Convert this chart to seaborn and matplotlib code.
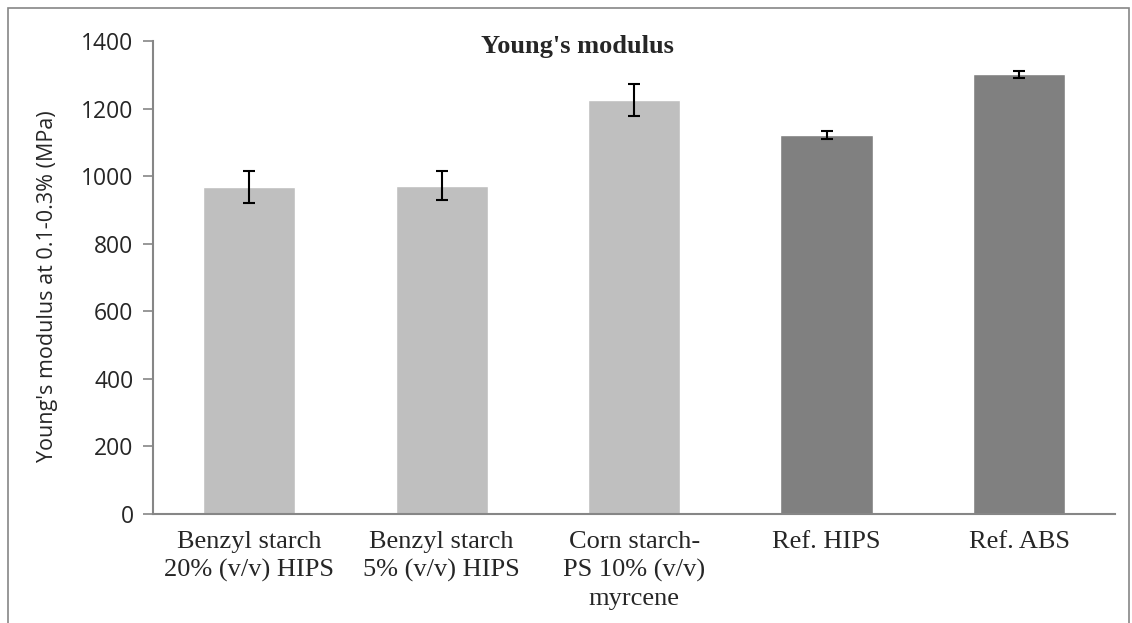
import numpy as np
import pandas as pd
import matplotlib
matplotlib.use("Agg")
import matplotlib.pyplot as plt
import seaborn as sns
from matplotlib.patches import Rectangle

# data
samples = ["Benzyl starch\n20% (v/v) HIPS", "Benzyl starch\n5% (v/v) HIPS",
           "Corn starch-\nPS 10% (v/v)\nmyrcene", "Ref. HIPS", "Ref. ABS"]
modulus = [968, 972, 1226, 1122, 1302]
modulus_err = [46, 43, 47, 13, 11]
group = ["starch", "starch", "starch", "ref", "ref"]

df = pd.DataFrame({"sample": samples, "modulus": modulus, "err": modulus_err, "group": group})

sns.set_style("white")
plt.rcParams["font.family"] = ["Open Sans", "DejaVu Sans"]

fig = plt.figure(figsize=(11.32, 6.23), dpi=100)
ax = fig.add_axes([0.1352, 0.175, 0.850, 0.759])

sns.barplot(data=df, x="sample", y="modulus", hue="group",
            palette={"starch": "#BFBFBF", "ref": "#808080"},
            width=0.48, dodge=False, legend=False, ax=ax, saturation=1)
ax.errorbar(np.arange(len(df)), df["modulus"], yerr=df["err"], fmt="none",
            ecolor="black", elinewidth=1.5, capsize=4.5, capthick=1.5)

ax.set_ylim(0, 1400)
ax.set_yticks(range(0, 1401, 200))
ax.set_xlim(-0.5, 4.5)
ax.set_xlabel("")
ax.set_ylabel("Young's modulus at 0.1-0.3% (MPa)", fontsize=15.5)
ax.yaxis.set_label_coords(-0.099, 0.482)
ax.tick_params(axis="y", labelsize=16.5, length=7, width=1.2, color="#868686",
               direction="out", left=True, pad=7)
ax.tick_params(axis="x", length=0, pad=12)
for lab in ax.get_xticklabels():
    lab.set_fontfamily("Liberation Serif")
    lab.set_fontsize(19)
    lab.set_linespacing(1.35)

for s in ["top", "right"]:
    ax.spines[s].set_visible(False)
for s in ["left", "bottom"]:
    ax.spines[s].set_color("#868686")
    ax.spines[s].set_linewidth(1.5)

fig.text(0.51, 0.925, "Young's modulus", ha="center", va="center",
         fontsize=19, fontweight="bold", family="Liberation Serif")

fig.patches.append(Rectangle((8 / 1132, -0.05), 1121 / 1132, 1 - 8 / 623 + 0.05,
                             transform=fig.transFigure, fill=False,
                             edgecolor="#868686", linewidth=1.2))

fig.savefig("out.png", dpi=100)
